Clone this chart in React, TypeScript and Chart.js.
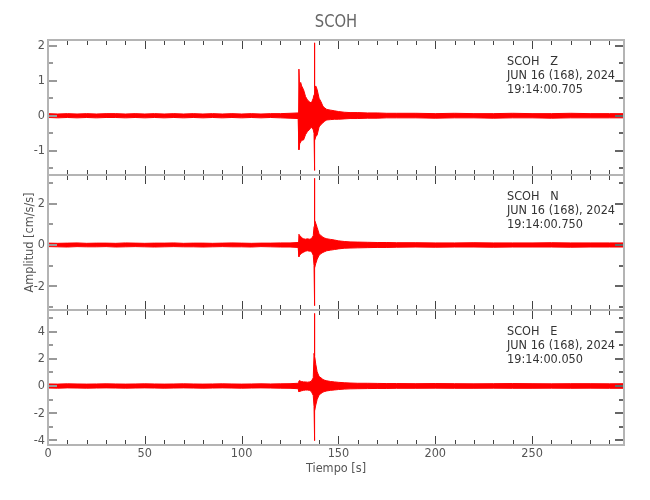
import React, { useEffect, useRef } from "react";
import { Chart, registerables } from "chart.js";
Chart.register(...registerables);

// ---- data (seconds) : envelope of each trace ----
const TIME = [
  0, 5, 10, 15, 20, 25, 30, 35, 40, 45, 50, 55, 60, 65, 70, 75, 80, 85, 90, 95, 100, 105, 110, 115, 120, 125,
  129.2, 129.6, 130.0, 130.5, 131, 132, 133, 134, 135, 136, 137,
  137.4, 137.6, 137.8, 138.3, 139, 140, 141, 142, 143, 144,
  146, 148, 150, 153, 156, 160, 165, 170, 175, 180,
  190, 200, 210, 220, 230, 240, 250, 260, 270, 280, 290, 297.5,
];

const Z_UP = [
  0.06, 0.05, 0.06, 0.05, 0.06, 0.05, 0.06, 0.06, 0.05, 0.06, 0.05, 0.06, 0.05, 0.06, 0.05, 0.06, 0.05, 0.06, 0.05, 0.06, 0.05, 0.06, 0.05, 0.06, 0.06, 0.07,
  0.08, 1.33, 0.7, 0.95, 0.85, 0.74, 0.55, 0.45, 0.4, 0.36, 0.5,
  0.6, 2.08, 0.8, 0.85, 0.75, 0.5, 0.4, 0.27, 0.22, 0.18,
  0.16, 0.14, 0.12, 0.1, 0.09, 0.09, 0.08, 0.08, 0.07, 0.07,
  0.07, 0.06, 0.07, 0.06, 0.06, 0.07, 0.06, 0.06, 0.07, 0.06, 0.06, 0.06,
];
const Z_LO = [
  -0.05, -0.06, -0.05, -0.06, -0.05, -0.06, -0.05, -0.05, -0.06, -0.05, -0.06, -0.05, -0.06, -0.05, -0.06, -0.05, -0.06, -0.05, -0.06, -0.05, -0.06, -0.05, -0.06, -0.05, -0.06, -0.07,
  -0.08, -0.97, -0.8, -0.75, -0.7, -0.69, -0.54, -0.45, -0.4, -0.32, -0.4,
  -0.5, -1.56, -0.7, -0.6, -0.55, -0.32, -0.25, -0.2, -0.15, -0.12,
  -0.11, -0.1, -0.1, -0.09, -0.08, -0.08, -0.07, -0.07, -0.06, -0.06,
  -0.06, -0.07, -0.06, -0.06, -0.07, -0.06, -0.06, -0.07, -0.06, -0.06, -0.06, -0.06,
];

const N_UP = [
  0.09, 0.08, 0.09, 0.1, 0.08, 0.09, 0.09, 0.08, 0.1, 0.09, 0.08, 0.09, 0.09, 0.1, 0.08, 0.09, 0.09, 0.08, 0.09, 0.1, 0.09, 0.08, 0.09, 0.09, 0.1, 0.1,
  0.12, 0.52, 0.45, 0.42, 0.35, 0.3, 0.28, 0.3, 0.28, 0.3, 0.45,
  0.9, 3.24, 1.2, 1.05, 0.85, 0.55, 0.45, 0.38, 0.33, 0.3,
  0.27, 0.24, 0.2, 0.17, 0.15, 0.14, 0.13, 0.12, 0.12, 0.11,
  0.11, 0.1, 0.1, 0.11, 0.1, 0.1, 0.1, 0.11, 0.1, 0.1, 0.1, 0.1,
];
const N_LO = [
  -0.08, -0.09, -0.1, -0.08, -0.09, -0.09, -0.08, -0.1, -0.09, -0.08, -0.09, -0.1, -0.09, -0.08, -0.09, -0.09, -0.1, -0.09, -0.08, -0.09, -0.09, -0.1, -0.08, -0.09, -0.1, -0.1,
  -0.12, -0.57, -0.5, -0.45, -0.4, -0.35, -0.3, -0.28, -0.3, -0.3, -0.5,
  -1.0, -2.95, -1.1, -0.9, -0.7, -0.5, -0.42, -0.36, -0.32, -0.28,
  -0.25, -0.22, -0.19, -0.16, -0.15, -0.14, -0.13, -0.12, -0.12, -0.11,
  -0.1, -0.11, -0.1, -0.1, -0.11, -0.1, -0.1, -0.1, -0.11, -0.1, -0.1, -0.1,
];

const E_UP = [
  0.15, 0.14, 0.16, 0.15, 0.14, 0.15, 0.16, 0.15, 0.14, 0.15, 0.16, 0.15, 0.14, 0.15, 0.16, 0.15, 0.14, 0.15, 0.16, 0.15, 0.14, 0.15, 0.16, 0.15, 0.16, 0.17,
  0.2, 0.37, 0.4, 0.35, 0.33, 0.3, 0.3, 0.28, 0.3, 0.35, 0.6,
  2.4, 5.34, 2.2, 1.6, 1.05, 0.7, 0.6, 0.48, 0.42, 0.38,
  0.33, 0.3, 0.27, 0.24, 0.22, 0.2, 0.2, 0.19, 0.18, 0.18,
  0.17, 0.18, 0.17, 0.16, 0.17, 0.18, 0.17, 0.16, 0.17, 0.17, 0.16, 0.17,
];
const E_LO = [
  -0.15, -0.16, -0.14, -0.15, -0.16, -0.15, -0.14, -0.15, -0.16, -0.15, -0.14, -0.15, -0.16, -0.15, -0.14, -0.15, -0.16, -0.15, -0.14, -0.15, -0.16, -0.15, -0.14, -0.15, -0.16, -0.17,
  -0.2, -0.42, -0.4, -0.38, -0.35, -0.32, -0.3, -0.3, -0.32, -0.4, -0.7,
  -1.5, -4.02, -1.8, -1.4, -1.0, -0.66, -0.55, -0.45, -0.4, -0.36,
  -0.32, -0.29, -0.26, -0.23, -0.21, -0.2, -0.19, -0.18, -0.18, -0.17,
  -0.17, -0.16, -0.17, -0.17, -0.16, -0.17, -0.17, -0.16, -0.17, -0.16, -0.17, -0.17,
];

const X_MAX = 297.5;
const X_LABELS = [0, 50, 100, 150, 200, 250];
const STATION = "SCOH";
const COMPONENTS = ["Z", "N", "E"];
const DATE_LINE = "JUN 16 (168), 2024";
const START_TIMES = ["19:14:00.705", "19:14:00.750", "19:14:00.050"];
const Y_RANGES = [
  [-1.69, 2.16],
  [-3.16, 3.4],
  [-4.34, 5.59],
];
const Y_MAJOR_STEP = [1, 2, 2];
const Y_MINOR_STEP = [0.5, 1, 1];
const TRACES_UP = [Z_UP, N_UP, E_UP];
const TRACES_LO = [Z_LO, N_LO, E_LO];

// ---- layout ----
const W = 650;
const H = 500;
const LEFT = 48;
const RIGHT = 624;
const TOPS = [40, 175, 310];
const PANEL_H = 135;
const FONT = "'DejaVu Sans', sans-serif";
const SQUEEZE = 0.87;

function line(ctx: CanvasRenderingContext2D, x1: number, y1: number, x2: number, y2: number) {
  ctx.beginPath();
  ctx.moveTo(x1, y1);
  ctx.lineTo(x2, y2);
  ctx.stroke();
}

function text(
  ctx: CanvasRenderingContext2D,
  s: string,
  x: number,
  y: number,
  size: number,
  align: CanvasTextAlign,
  color: string,
  rot = 0
) {
  ctx.save();
  ctx.translate(x, y);
  if (rot) ctx.rotate(rot);
  ctx.scale(SQUEEZE, 1);
  ctx.font = size + "px " + FONT;
  ctx.fillStyle = color;
  ctx.textAlign = align;
  ctx.textBaseline = "middle";
  ctx.fillText(s, 0, 0);
  ctx.restore();
}

function Panel({ idx }: { idx: number }) {
  const ref = useRef<HTMLCanvasElement | null>(null);
  useEffect(() => {
    const canvas = ref.current;
    if (!canvas) return;
    const top = TOPS[idx];
    const [ymin, ymax] = Y_RANGES[idx];
    const up = TRACES_UP[idx];
    const lo = TRACES_LO[idx];

    const deco = {
      id: "deco" + idx,
      afterDatasetsDraw(chart: any) {
        const { ctx, chartArea, scales } = chart;
        const { left, right, top: t, bottom: b } = chartArea;
        const x = scales.x;
        const y = scales.y;
        ctx.save();
        // x ticks top & bottom
        ctx.strokeStyle = "#444";
        ctx.lineWidth = 1;
        for (let k = 0; k * 10 <= X_MAX; k++) {
          const v = k * 10;
          const px = Math.round(x.getPixelForValue(v)) + 0.5;
          const len = v % 50 === 0 ? 9 : 5;
          line(ctx, px, t, px, t + len);
          line(ctx, px, b, px, b - len);
        }
        // y ticks
        const ms = Y_MINOR_STEP[idx];
        const Ms = Y_MAJOR_STEP[idx];
        const majors: number[] = [];
        for (let k = Math.ceil(ymin / ms); k <= Math.floor(ymax / ms); k++) {
          const v = k * ms;
          const isMajor = Math.abs(v / Ms - Math.round(v / Ms)) < 1e-6;
          if (isMajor) majors.push(v);
          const py = Math.round(y.getPixelForValue(v));
          const len = isMajor ? 9 : 5;
          ctx.strokeStyle = "#9a9a9a";
          ctx.lineWidth = 2;
          line(ctx, left, py, left + len, py);
          ctx.strokeStyle = "#666";
          line(ctx, right, py, right - len, py);
        }
        // frame
        ctx.strokeStyle = "#b4b4b4";
        ctx.lineWidth = 2;
        ctx.strokeRect(left, t, right - left, b - t);
        // y labels
        majors.forEach((v) => {
          text(ctx, String(Math.round(v)), left - 3, y.getPixelForValue(v), 13, "right", "#555");
        });
        // annotation
        text(ctx, STATION + "   " + COMPONENTS[idx], 507, t + 22, 13, "left", "#333");
        text(ctx, DATE_LINE, 507, t + 36, 13, "left", "#333");
        text(ctx, START_TIMES[idx], 507, t + 50, 13, "left", "#333");

        if (idx === 0) {
          text(ctx, STATION, (LEFT + RIGHT) / 2, 23, 17, "center", "#666");
        }
        if (idx === 1) {
          text(ctx, "Amplitud [cm/s/s]", 30, (t + b) / 2, 13, "center", "#555", -Math.PI / 2);
        }
        if (idx === 2) {
          X_LABELS.forEach((v) => {
            text(ctx, String(v), x.getPixelForValue(v), b + 9, 13, "center", "#555");
          });
          text(ctx, "Tiempo [s]", (LEFT + RIGHT) / 2, 469, 13, "center", "#555");
        }
        ctx.restore();
      },
    };

    const chart = new Chart(canvas, {
      type: "line",
      data: {
        datasets: [
          {
            data: TIME.map((t, i) => ({ x: t, y: up[i] })),
            borderColor: "#ff0000",
            borderWidth: 1,
            pointRadius: 0,
            fill: false,
            tension: 0,
          },
          {
            data: TIME.map((t, i) => ({ x: t, y: lo[i] })),
            borderColor: "#ff0000",
            backgroundColor: "#ff0000",
            borderWidth: 1,
            pointRadius: 0,
            fill: "-1",
            tension: 0,
          },
        ],
      },
      options: {
        responsive: false,
        animation: false,
        devicePixelRatio: 1,
        layout: {
          padding: { left: LEFT, right: W - RIGHT, top: top, bottom: H - (top + PANEL_H) },
        },
        scales: {
          x: { type: "linear", min: 0, max: X_MAX, display: false },
          y: { type: "linear", min: ymin, max: ymax, display: false },
        },
        plugins: { legend: { display: false }, tooltip: { enabled: false } },
        events: [],
      },
      plugins: [deco],
    } as any);
    return () => chart.destroy();
  }, [idx]);
  return (
    <canvas
      ref={ref}
      width={W}
      height={H}
      style={{ position: "absolute", left: 0, top: 0, width: W, height: H }}
    />
  );
}

export default function App() {
  return (
    <div style={{ position: "absolute", left: 0, top: 0, width: W, height: H, background: "#fff" }}>
      <Panel idx={0} />
      <Panel idx={1} />
      <Panel idx={2} />
    </div>
  );
}
